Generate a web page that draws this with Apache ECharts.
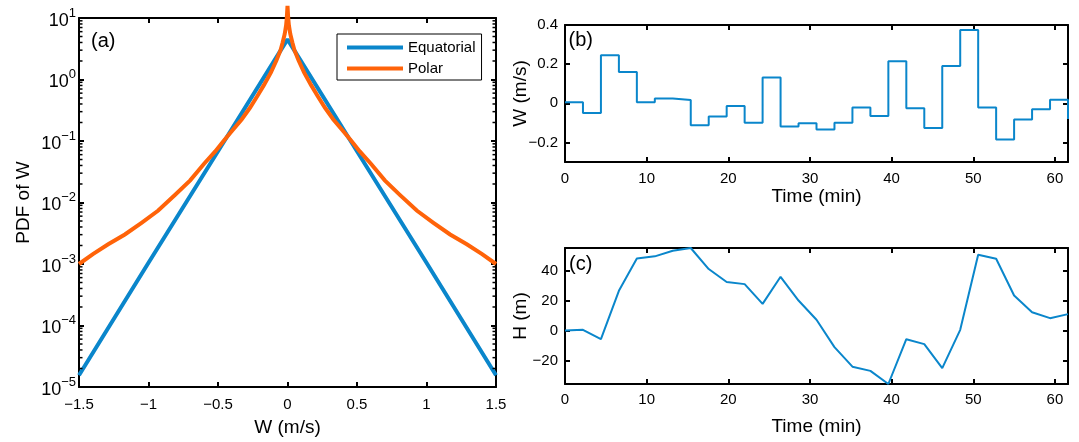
<!DOCTYPE html>
<html>
<head>
<meta charset="utf-8">
<script src="https://cdn.jsdelivr.net/npm/echarts@6/dist/echarts.min.js"></script>
<style>
  html, body { margin: 0; padding: 0; background: #fff; }
  #chart { width: 1079px; height: 442px; }
</style>
</head>
<body>
<div id="chart"></div>
<script>
// ---- (a) PDF of vertical velocity W ----
const equatorialW   = [-1.5, -1.0, -0.5, 0, 0.5, 1.0, 1.5];
const equatorialPdf = [1.55e-5, 1.05e-3, 0.068, 4.5, 0.068, 1.05e-3, 1.55e-5];

const polarW = [-1.5, -1.4, -1.29, -1.17, -1.05, -0.93, -0.81, -0.7, -0.6, -0.52, -0.46, -0.4,
  -0.33, -0.27, -0.22, -0.17, -0.12, -0.08, -0.05, -0.035, -0.02, -0.01, -0.005, 0,
  0.005, 0.01, 0.02, 0.035, 0.05, 0.08, 0.12, 0.17, 0.22, 0.27, 0.33, 0.4, 0.46,
  0.52, 0.6, 0.7, 0.81, 0.93, 1.05, 1.17, 1.29, 1.4, 1.5];
const polarPdf = [0.00100, 0.00145, 0.00209, 0.00302, 0.00468, 0.0074, 0.0132, 0.0229, 0.0427, 0.0676, 0.100, 0.145,
  0.224, 0.347, 0.525, 0.81, 1.29, 2.04, 3.0, 4.0, 5.5, 7.6, 10.0, 15.8,
  10.0, 7.6, 5.5, 4.0, 3.0, 2.04, 1.29, 0.81, 0.525, 0.347, 0.224, 0.145, 0.100,
  0.0676, 0.0427, 0.0229, 0.0132, 0.0074, 0.00468, 0.00302, 0.00209, 0.00145, 0.00100];

const pdfExponents = [-5, -4, -3, -2, -1, 0, 1];

// ---- (b) W time series (piecewise constant) ----
const timeMin = [0, 2.2, 4.4, 6.6, 8.8, 11, 13.2, 15.4, 17.6, 19.8, 22, 24.2, 26.4, 28.6, 30.8,
  33, 35.2, 37.4, 39.6, 41.8, 44, 46.2, 48.4, 50.6, 52.8, 55, 57.2, 59.4, 61.6];
const wSeries = [0.005, -0.05, 0.245, 0.16, 0.005, 0.025, 0.017, -0.112, -0.068, -0.014, -0.1, 0.132,
  -0.119, -0.102, -0.134, -0.1, -0.022, -0.065, 0.215, -0.025, -0.126, 0.19, 0.375, -0.022,
  -0.185, -0.083, -0.031, 0.018, -0.08];
const wTicksB = [-0.2, 0, 0.2, 0.4];

// ---- (c) H time series ----
const hSeries = [0, 0.5, -5.8, 26.6, 48.3, 49.7, 53.5, 55.3, 41.2, 32.5, 31.1, 17.9, 36, 20.1, 7.2,
  -11.1, -24.2, -27, -35.8, -5.8, -9.1, -25.2, 0.5, 50.8, 48.1, 23.5, 12.3, 8.3, 11];
const hTicks = [-20, 0, 20, 40];
const timeTicks = [0, 10, 20, 30, 40, 50, 60];

const BLUE = '#0A86CB';
const ORANGE = '#FF6309';
const FONT = 'Liberation Sans';
const MINUS = '\u2212';

// minor tick values (2..9 x 10^e) on the logarithmic PDF axis
const minorTickValues = [];
pdfExponents.slice(0, -1).forEach(function (e) {
  for (let k = 2; k <= 9; k++) minorTickValues.push([-1.5, k * Math.pow(10, e)]);
});

const zip = (xs, ys) => xs.map((x, i) => [x, ys[i]]);
const fmtMinus = v => String(v).replace('-', MINUS);

const lineAx = { show: true, onZero: false, lineStyle: { color: '#000', width: 2 } };
const tickMajor = (len, extra) => Object.assign({ show: true, inside: true, length: len, lineStyle: { color: '#000', width: 2 } }, extra || {});
const labelStyle = { color: '#000', fontSize: 15, fontFamily: FONT, formatter: fmtMinus };
const nameStyle = { color: '#000', fontSize: 19, fontFamily: FONT };

const chart = echarts.init(document.getElementById('chart'), null, { renderer: 'canvas' });

chart.setOption({
  animation: false,
  textStyle: { fontFamily: FONT },
  grid: [
    { left: 79, top: 18, width: 417, height: 369, outerBoundsMode: 'none', containLabel: false },
    { left: 565, top: 25, width: 503, height: 137, outerBoundsMode: 'none', containLabel: false },
    { left: 565, top: 248, width: 503, height: 136, outerBoundsMode: 'none', containLabel: false }
  ],
  legend: {
    data: ['Equatorial', 'Polar'],
    orient: 'vertical',
    left: 337, top: 34,
    icon: 'rect', itemWidth: 56, itemHeight: 4, itemGap: 4,
    padding: [5, 6, 3, 10],
    borderColor: '#000', borderWidth: 1, borderRadius: 0,
    backgroundColor: '#fff',
    selectedMode: false,
    textStyle: { color: '#000', fontSize: 15, fontFamily: FONT, lineHeight: 17 }
  },
  xAxis: [
    { gridIndex: 0, type: 'value', position: 'bottom', min: -1.5, max: 1.5, interval: 0.5,
      name: 'W (m/s)', nameLocation: 'middle', nameGap: 31, nameMoveOverlap: false, nameTextStyle: nameStyle,
      axisLine: lineAx, axisTick: tickMajor(5), splitLine: { show: false },
      axisLabel: Object.assign({ margin: 10 }, labelStyle) },
    { gridIndex: 0, type: 'value', position: 'top', min: -1.5, max: 1.5, interval: 0.5,
      axisLine: lineAx, axisTick: tickMajor(5), axisLabel: { show: false }, splitLine: { show: false } },
    { gridIndex: 1, type: 'value', position: 'bottom', min: 0, max: 61.6,
      name: 'Time (min)', nameLocation: 'middle', nameGap: 25, nameMoveOverlap: false, nameTextStyle: nameStyle,
      axisLine: lineAx, axisTick: tickMajor(5, { customValues: timeTicks }), splitLine: { show: false },
      axisLabel: Object.assign({ margin: 9, customValues: timeTicks }, labelStyle) },
    { gridIndex: 1, type: 'value', position: 'top', min: 0, max: 61.6,
      axisLine: lineAx, axisTick: tickMajor(5, { customValues: timeTicks }), axisLabel: { show: false }, splitLine: { show: false } },
    { gridIndex: 2, type: 'value', position: 'bottom', min: 0, max: 61.6,
      name: 'Time (min)', nameLocation: 'middle', nameGap: 33, nameMoveOverlap: false, nameTextStyle: nameStyle,
      axisLine: lineAx, axisTick: tickMajor(5, { customValues: timeTicks }), splitLine: { show: false },
      axisLabel: Object.assign({ margin: 8, customValues: timeTicks }, labelStyle) },
    { gridIndex: 2, type: 'value', position: 'top', min: 0, max: 61.6,
      axisLine: lineAx, axisTick: tickMajor(5, { customValues: timeTicks }), axisLabel: { show: false }, splitLine: { show: false } }
  ],
  yAxis: [
    // 0: logarithmic data axis for the PDF curves
    { gridIndex: 0, type: 'log', logBase: 10, min: 1e-5, max: 10, position: 'left', show: false },
    // 1: decade ticks and 10^n labels
    { gridIndex: 0, type: 'value', position: 'left', min: -5, max: 1, interval: 1,
      name: 'PDF of W', nameLocation: 'middle', nameGap: 46, nameMoveOverlap: false, nameTextStyle: nameStyle,
      axisLine: lineAx, axisTick: tickMajor(5), splitLine: { show: false },
      axisLabel: {
        margin: 3, color: '#000', fontFamily: FONT, padding: [6, 0, 0, 0],
        formatter: function (v) { return '{b|10}{s|' + fmtMinus(v) + '}'; },
        rich: {
          b: { fontSize: 18, fontFamily: FONT, color: '#000' },
          s: { fontSize: 13, fontFamily: FONT, color: '#000', padding: [0, 0, 16, 0] }
        }
      } },
    // 2: decade ticks, right side
    { gridIndex: 0, type: 'value', position: 'right', min: -5, max: 1, interval: 1,
      axisLine: lineAx, axisTick: tickMajor(5), axisLabel: { show: false }, splitLine: { show: false } },
    // 3: W (m/s)
    { gridIndex: 1, type: 'value', position: 'left', min: -0.3, max: 0.4,
      name: 'W (m/s)', nameLocation: 'middle', nameGap: 35, nameMoveOverlap: false, nameTextStyle: nameStyle,
      axisLine: lineAx, axisTick: tickMajor(5, { customValues: wTicksB }), splitLine: { show: false },
      axisLabel: Object.assign({ margin: 7, customValues: wTicksB }, labelStyle) },
    { gridIndex: 1, type: 'value', position: 'right', min: -0.3, max: 0.4,
      axisLine: lineAx, axisTick: tickMajor(5, { customValues: wTicksB }), axisLabel: { show: false }, splitLine: { show: false } },
    // 5: H (m)
    { gridIndex: 2, type: 'value', position: 'left', min: -35.8, max: 55.3,
      name: 'H (m)', nameLocation: 'middle', nameGap: 35, nameMoveOverlap: false, nameTextStyle: nameStyle,
      axisLine: lineAx, axisTick: tickMajor(5, { customValues: hTicks }), splitLine: { show: false },
      axisLabel: Object.assign({ margin: 7, customValues: hTicks }, labelStyle) },
    { gridIndex: 2, type: 'value', position: 'right', min: -35.8, max: 55.3,
      axisLine: lineAx, axisTick: tickMajor(5, { customValues: hTicks }), axisLabel: { show: false }, splitLine: { show: false } }
  ],
  series: [
    // minor ticks of the log axis, on both the left and right frame edges
    { name: 'minorTicks', type: 'custom', coordinateSystem: 'cartesian2d', xAxisIndex: 0, yAxisIndex: 0,
      data: minorTickValues, silent: true, clip: false, z: 5,
      encode: { x: 0, y: 1 },
      renderItem: function (params, api) {
        const left = api.coord([-1.5, api.value(1)]);
        const right = api.coord([1.5, api.value(1)]);
        return { type: 'group', children: [
          { type: 'rect', shape: { x: left[0], y: left[1] - 0.75, width: 3.5, height: 1.5 }, style: { fill: '#000' } },
          { type: 'rect', shape: { x: right[0] - 3.5, y: right[1] - 0.75, width: 3.5, height: 1.5 }, style: { fill: '#000' } }
        ] };
      } },
    { name: 'Equatorial', type: 'line', xAxisIndex: 0, yAxisIndex: 0, data: zip(equatorialW, equatorialPdf),
      showSymbol: false, symbol: 'none', color: BLUE, lineStyle: { color: BLUE, width: 4 }, z: 3 },
    { name: 'Polar', type: 'line', xAxisIndex: 0, yAxisIndex: 0, data: zip(polarW, polarPdf), clip: false,
      showSymbol: false, symbol: 'none', color: ORANGE, lineStyle: { color: ORANGE, width: 4, join: 'miter' }, z: 4 },
    { name: 'W', type: 'line', step: 'end', xAxisIndex: 2, yAxisIndex: 3, data: zip(timeMin, wSeries),
      showSymbol: false, symbol: 'none', lineStyle: { color: BLUE, width: 2 } },
    { name: 'H', type: 'line', xAxisIndex: 4, yAxisIndex: 5, data: zip(timeMin, hSeries),
      showSymbol: false, symbol: 'none', lineStyle: { color: BLUE, width: 2 } }
  ],
  graphic: [
    { type: 'text', x: 91, y: 41, z: 10, style: { text: '(a)', fontSize: 20, fontFamily: FONT, fill: '#000', verticalAlign: 'middle' } },
    { type: 'text', x: 568.5, y: 40, z: 10, style: { text: '(b)', fontSize: 20, fontFamily: FONT, fill: '#000', verticalAlign: 'middle' } },
    { type: 'text', x: 569, y: 264, z: 10, style: { text: '(c)', fontSize: 20, fontFamily: FONT, fill: '#000', verticalAlign: 'middle' } }
  ]
});
</script>
</body>
</html>
